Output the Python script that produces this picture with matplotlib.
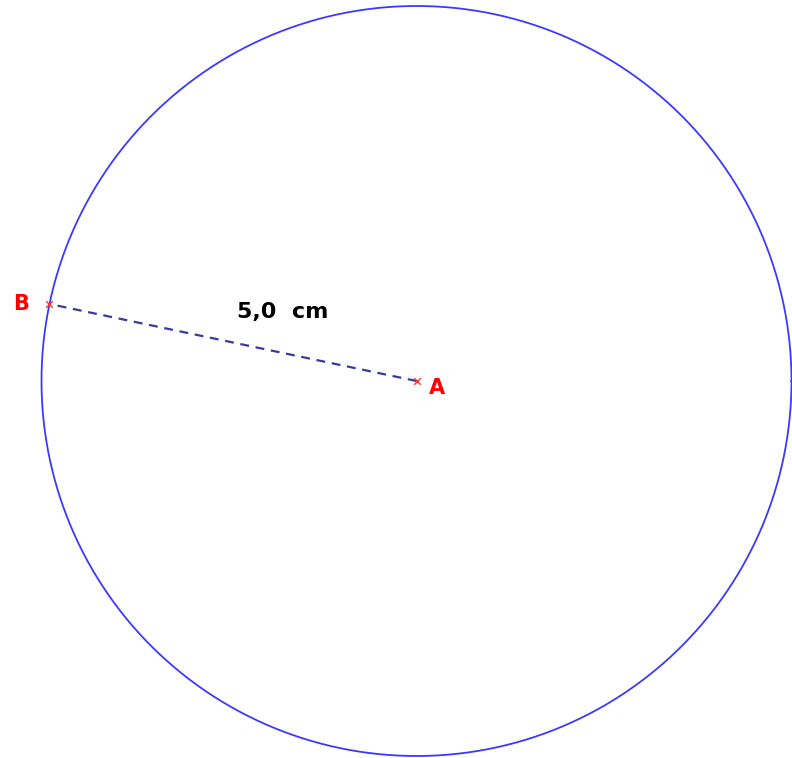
import matplotlib.pyplot as plt
import numpy as np

# geometry (cm)
center = (0.0, 0.0)
radius = 5.0
b_angle_deg = 168.15
label_text = "5,0  cm"
point_names = ["A", "B"]

px_per_cm = 75.0
fig = plt.figure(figsize=(7.92, 7.58), dpi=100)
ax = fig.add_axes([0, 0, 1, 1])
ax.set_xlim(-416.5 / px_per_cm, (792 - 416.5) / px_per_cm)
ax.set_ylim(-(758 - 381) / px_per_cm, 381 / px_per_cm)
ax.axis("off")

# circle
t = np.linspace(0, 2 * np.pi, 720)
ax.plot(center[0] + radius * np.cos(t), center[1] + radius * np.sin(t),
        color="#3a3aff", lw=1.3)

# point B on circle
bx = center[0] + radius * np.cos(np.deg2rad(b_angle_deg))
by = center[1] + radius * np.sin(np.deg2rad(b_angle_deg))

# radius segment
ax.plot([center[0], bx], [center[1], by], color="#3a3a9a", lw=1.6,
        dashes=(4, 3))

# points
ax.scatter([center[0], bx], [center[1], by], marker="x", color="#ff3030",
           s=22, lw=1.0, zorder=3)

ax.text(center[0] + 0.17, center[1] - 0.1, point_names[0], color="#ff0000",
        fontsize=15, fontweight="bold", ha="left", va="center")
ax.text(bx - 0.38, by, point_names[1], color="#ff0000",
        fontsize=15, fontweight="bold", ha="center", va="center")

# length label
mx = (center[0] + bx) / 2
my = (center[1] + by) / 2
ax.text(mx + 0.66, my + 0.4, label_text, color="black", fontsize=16,
        fontweight="bold", ha="center", va="center")

fig.savefig("out.png", dpi=100)
